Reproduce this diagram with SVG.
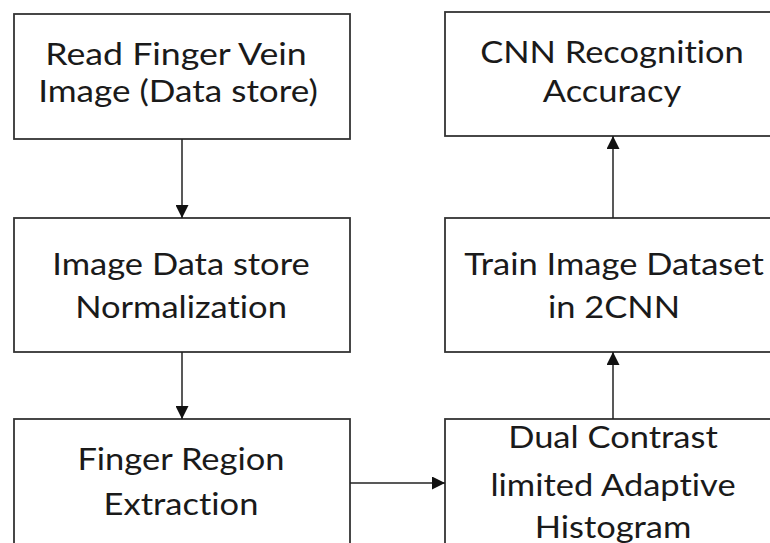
<svg xmlns="http://www.w3.org/2000/svg" width="770" height="543" viewBox="0 0 770 543">
<defs>
<marker id="ah" viewBox="0 0 10 10" refX="10" refY="5" markerWidth="14" markerHeight="13" markerUnits="userSpaceOnUse" orient="auto">
<path d="M0,0 L10,5 L0,10 Z" fill="#111"/>
</marker>
<style>
.box{fill:#fff;stroke:#333;stroke-width:1.8}
.t{font-family:Lato,"Open Sans","Liberation Sans",sans-serif;font-size:30px;fill:#1a1a1a;text-anchor:middle;font-variant-ligatures:none}
.c{stroke:#222;stroke-width:1.5;fill:none}
</style>
</defs>
<rect width="770" height="543" fill="#fff"/>
<g id="n1"><rect class="box" x="14" y="14" width="336" height="125"/>
<text class="t" transform="translate(176 65) scale(1.19 1)">Read Finger Vein</text><text class="t" transform="translate(178 102) scale(1.17 1)">Image (Data store)</text></g>
<g id="n2"><rect class="box" x="14" y="218" width="336" height="134"/>
<text class="t" transform="translate(181 275) scale(1.15 1)">Image Data store</text><text class="t" transform="translate(181 318) scale(1.15 1)">Normalization</text></g>
<g id="n3"><rect class="box" x="14" y="419" width="336" height="140"/>
<text class="t" transform="translate(181 470) scale(1.15 1)">Finger Region</text><text class="t" transform="translate(181 515) scale(1.15 1)">Extraction</text></g>
<g id="n4"><rect class="box" x="445" y="419" width="340" height="140"/>
<text class="t" transform="translate(613 448) scale(1.15 1)">Dual Contrast</text><text class="t" transform="translate(613 496) scale(1.15 1)">limited Adaptive</text><text class="t" transform="translate(613 538) scale(1.15 1)">Histogram</text></g>
<g id="n5"><rect class="box" x="445" y="218" width="340" height="134"/>
<text class="t" transform="translate(614 275) scale(1.15 1)">Train Image Dataset</text><text class="t" transform="translate(614 318) scale(1.15 1)">in 2CNN</text></g>
<g id="n6"><rect class="box" x="445" y="12" width="340" height="124"/>
<text class="t" transform="translate(612 63) scale(1.15 1)">CNN Recognition</text><text class="t" transform="translate(612 102) scale(1.15 1)">Accuracy</text></g>
<g id="connectors">
<line class="c" x1="182" y1="139" x2="182" y2="218" marker-end="url(#ah)"/>
<line class="c" x1="182" y1="352" x2="182" y2="419" marker-end="url(#ah)"/>
<line class="c" x1="350" y1="483" x2="445" y2="483" marker-end="url(#ah)"/>
<line class="c" x1="613" y1="419" x2="613" y2="352" marker-end="url(#ah)"/>
<line class="c" x1="613" y1="218" x2="613" y2="136" marker-end="url(#ah)"/>
</g>
</svg>
